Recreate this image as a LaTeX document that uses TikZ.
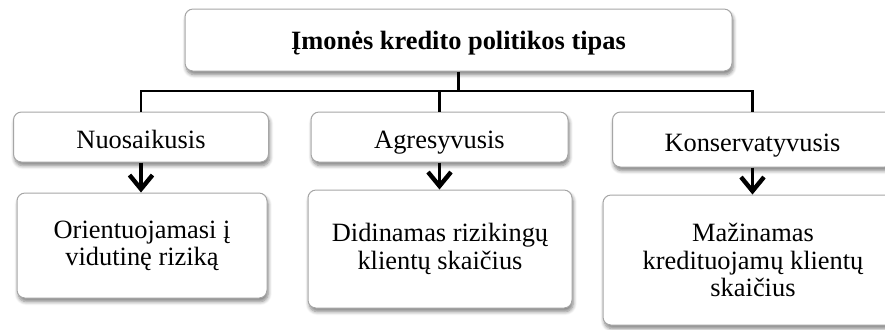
\documentclass[tikz,border=0pt]{standalone}
\usepackage{fontspec}
\setmainfont{Liberation Serif}
\usetikzlibrary{arrows.meta,shadows.blur}
\newcommand{\lowertxt}[1]{\raisebox{-1.2pt}{#1}}
\begin{document}
\begin{tikzpicture}[x=0.5pt,y=-0.5pt,
  box/.style={draw=black!35, line width=0.5pt, rounded corners=4pt, fill=white,
    align=center, inner sep=2pt,
    font=\fontsize{13.2}{13.6}\selectfont,
    blur shadow={shadow xshift=0.6pt, shadow yshift=-1.8pt, shadow blur steps=6, shadow opacity=50}},
  onel/.style={text height=9.5pt, text depth=-0.8pt},
  conn/.style={line width=1.1pt, black},
  arr/.style={line width=1.8pt, black, -{Straight Barb[length=7pt,width=11.5pt,line width=2.2pt]}}
]
\useasboundingbox (0,0) rectangle (885,329);
\clip (0,0) rectangle (885,329);
\node[box, onel, minimum width=273.5pt, minimum height=31pt] (top) at (458.5,40) {\textbf{Įmonės kredito politikos tipas}};
\node[box, onel, minimum width=127.5pt, minimum height=25pt] (n1) at (141,137) {\lowertxt{Nuosaikusis}};
\node[box, onel, minimum width=128.5pt, minimum height=25pt] (n2) at (439.5,137) {\lowertxt{Agresyvusis}};
\node[box, onel, minimum width=140pt, minimum height=27.5pt] (n3) at (752.5,139.5) {\lowertxt{Konservatyvusis}};
\node[box, minimum width=125pt, minimum height=52.5pt] (b1) at (142,245.5) {Orientuojamasi į\\vidutinę riziką};
\node[box, minimum width=132pt, minimum height=59pt] (b2) at (440,249) {Didinamas rizikingų\\klientų skaičius};
\node[box, minimum width=150pt, minimum height=65pt] (b3) at (753,260) {Mažinamas\\kredituojamų klientų\\skaičius};
\coordinate (bus) at (458.5,91);
\draw[conn] (top.south) -- (bus);
\draw[conn] (n1.north) |- (bus) -| (n3.north);
\draw[conn] (bus -| n2.north) -- (n2.north);
\draw[arr] (n1.south) -- (n1.south |- b1.north);
\draw[arr] (n2.south) -- (n2.south |- b2.north);
\draw[arr] (n3.south) -- (n3.south |- b3.north);
\end{tikzpicture}
\end{document}
